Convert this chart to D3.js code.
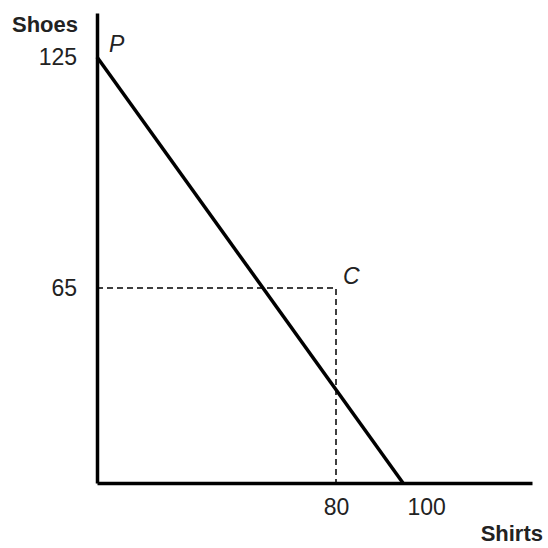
<!DOCTYPE html>
<html lang="en">
<head>
	<meta charset="utf-8">
	<title>shoes and shirts</title>
	<script src="https://d3js.org/d3.v7.min.js"></script>
	<style>
		body{ margin:0; background:#fff; }
		.lbl{ font-family:"Liberation Sans", Arial, sans-serif; fill:#222; }
	</style>
</head>
<body>
<div id="chart"></div>
<script>
// data
let xTicks=[80,100];
let yTicks=[65,125];
let frontier=[{shirts:0,shoes:125},{shirts:100,shoes:0}];
let pointC={shirts:80,shoes:65,name:"C"};
let pointP={shirts:0,shoes:125,name:"P"};

let W=548,H=548;
let svg=d3.select("#chart").append("svg")
	.attr("width",W)
	.attr("height",H);

// the drawing is schematic, so the scales are piecewise
let x=d3.scaleLinear().domain([0,80,100,140]).range([97,336,403,532]);
let y=d3.scaleLinear().domain([0,65,125,140]).range([483,288,57,13]);

// dashed guides to C
svg.append("path")
	.attr("d",d3.line()([[x(0),y(pointC.shoes)],[x(pointC.shirts),y(pointC.shoes)],[x(pointC.shirts),y(0)]]))
	.attr("fill","none")
	.attr("stroke","#000")
	.attr("stroke-width",1.5)
	.attr("stroke-dasharray","6,4");

// frontier
svg.append("path")
	.datum(frontier)
	.attr("d",d3.line().x(d=>x(d.shirts)).y(d=>y(d.shoes)))
	.attr("fill","none")
	.attr("stroke","#000")
	.attr("stroke-width",3.5);

// axes
let xAxis=svg.append("g")
	.attr("transform","translate(0,"+y(0)+")")
	.call(d3.axisBottom(x).tickValues(xTicks).tickSizeInner(0).tickSizeOuter(0).tickPadding(16));
let yAxis=svg.append("g")
	.attr("transform","translate("+x(0)+",0)")
	.call(d3.axisLeft(y).tickValues(yTicks).tickSizeInner(0).tickSizeOuter(0).tickPadding(20));

[xAxis,yAxis].forEach(a=>{
	a.select(".domain").attr("stroke","#000").attr("stroke-width",3.5);
	a.selectAll("text").attr("class","lbl").attr("font-size",23).attr("fill","#222");
});
xAxis.selectAll("text").attr("dy","0.71em");
// 100 sits just right of the intercept
xAxis.selectAll(".tick").filter(d=>d==100).select("text").attr("text-anchor","start").attr("dx",4);

// axis titles
svg.append("text").attr("class","lbl")
	.attr("x",78).attr("y",32)
	.attr("text-anchor","end")
	.attr("font-size",22).attr("font-weight","bold")
	.text("Shoes");
svg.append("text").attr("class","lbl")
	.attr("x",543).attr("y",541)
	.attr("text-anchor","end")
	.attr("font-size",22).attr("font-weight","bold")
	.text("Shirts");

// point labels
svg.append("text").attr("class","lbl")
	.attr("x",x(pointP.shirts)+12).attr("y",y(pointP.shoes)-5)
	.attr("font-size",23).attr("font-style","italic")
	.text(pointP.name);
svg.append("text").attr("class","lbl")
	.attr("x",x(pointC.shirts)+7).attr("y",y(pointC.shoes)-4)
	.attr("font-size",23).attr("font-style","italic")
	.text(pointC.name);
</script>
</body>
</html>
